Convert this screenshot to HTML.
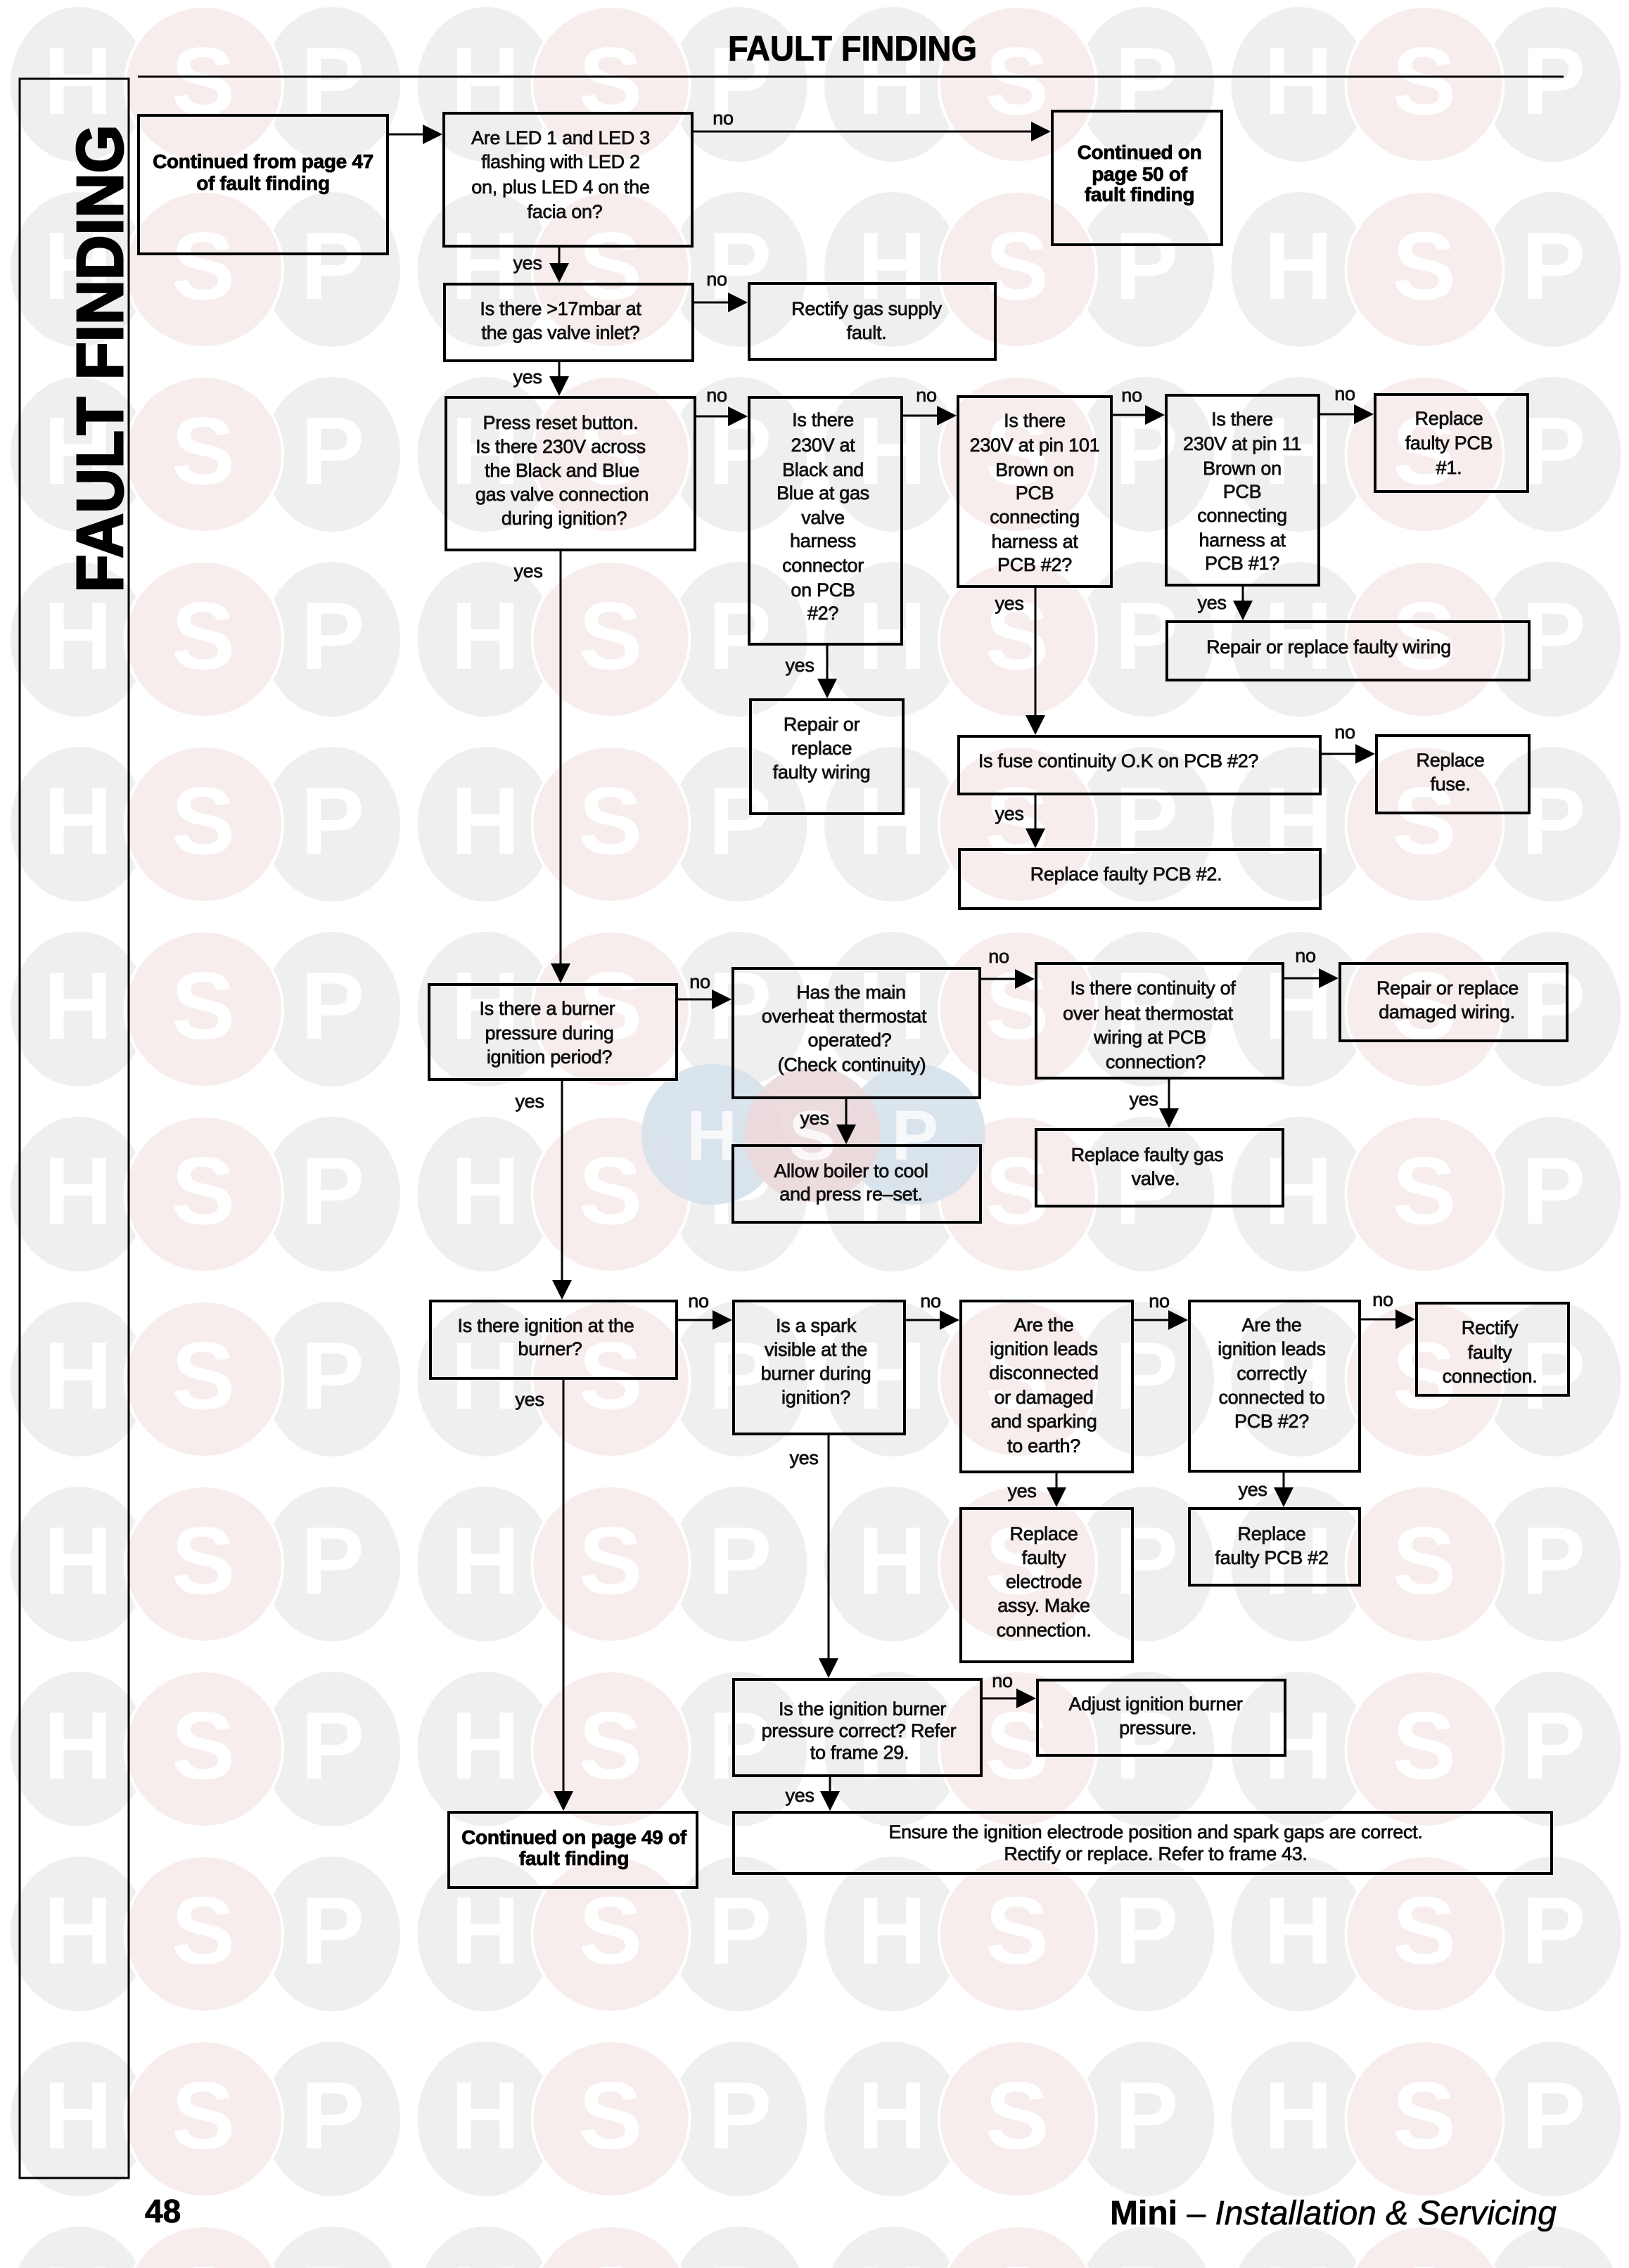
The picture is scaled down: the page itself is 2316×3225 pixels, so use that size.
<!DOCTYPE html>
<html>
<head>
<meta charset="utf-8">
<style>
html,body{margin:0;padding:0;background:#fff;}
svg{display:block;}
.t{font-family:"Liberation Sans",Arial,sans-serif;font-size:27px;fill:#111;text-anchor:middle;letter-spacing:-0.3px;stroke:#111;stroke-width:0.75px;}
.b{font-family:"Liberation Sans",Arial,sans-serif;font-size:28px;font-weight:bold;fill:#000;text-anchor:middle;letter-spacing:-0.3px;stroke:#000;stroke-width:0.8px;}
.wm{font-family:"Liberation Sans",Arial,sans-serif;font-size:136px;font-weight:bold;fill:#fff;text-anchor:middle;}
.lg{font-family:"Liberation Sans",Arial,sans-serif;font-size:100px;font-weight:bold;fill:#fff;fill-opacity:0.75;text-anchor:middle;}
</style>
</head>
<body>
<svg width="2316" height="3225" viewBox="0 0 2316 3225" xmlns="http://www.w3.org/2000/svg">
<defs>
<pattern id="wmp" patternUnits="userSpaceOnUse" x="0" y="-11.5" width="578.5" height="263">
<ellipse cx="112" cy="131.5" rx="97" ry="110" fill="#efefef"/>
<ellipse cx="472" cy="131.5" rx="97" ry="110" fill="#efefef"/>
<ellipse cx="290" cy="131.5" rx="112" ry="111" fill="#f8eded" stroke="#fff" stroke-width="4"/>
</pattern>
</defs>
<rect x="0" y="0" width="2316" height="3225" fill="#fff"/>
<rect x="0" y="0" width="2316" height="3225" fill="url(#wmp)"/>
<g>
<text class="wm" x="111 289 473 690 868 1052 1268 1446 1630 1846 2025 2209" y="162">HSPHSPHSPHSP</text>
<text class="wm" x="111 289 473 690 868 1052 1268 1446 1630 1846 2025 2209" y="425">HSPHSPHSPHSP</text>
<text class="wm" x="111 289 473 690 868 1052 1268 1446 1630 1846 2025 2209" y="688">HSPHSPHSPHSP</text>
<text class="wm" x="111 289 473 690 868 1052 1268 1446 1630 1846 2025 2209" y="951">HSPHSPHSPHSP</text>
<text class="wm" x="111 289 473 690 868 1052 1268 1446 1630 1846 2025 2209" y="1214">HSPHSPHSPHSP</text>
<text class="wm" x="111 289 473 690 868 1052 1268 1446 1630 1846 2025 2209" y="1477">HSPHSPHSPHSP</text>
<text class="wm" x="111 289 473 690 868 1052 1268 1446 1630 1846 2025 2209" y="1740">HSPHSPHSPHSP</text>
<text class="wm" x="111 289 473 690 868 1052 1268 1446 1630 1846 2025 2209" y="2003">HSPHSPHSPHSP</text>
<text class="wm" x="111 289 473 690 868 1052 1268 1446 1630 1846 2025 2209" y="2266">HSPHSPHSPHSP</text>
<text class="wm" x="111 289 473 690 868 1052 1268 1446 1630 1846 2025 2209" y="2529">HSPHSPHSPHSP</text>
<text class="wm" x="111 289 473 690 868 1052 1268 1446 1630 1846 2025 2209" y="2792">HSPHSPHSPHSP</text>
<text class="wm" x="111 289 473 690 868 1052 1268 1446 1630 1846 2025 2209" y="3055">HSPHSPHSPHSP</text>
<text class="wm" x="111 289 473 690 868 1052 1268 1446 1630 1846 2025 2209" y="3318">HSPHSPHSPHSP</text>
</g>
<!-- coloured logo -->
<g>
<circle cx="1012" cy="1613" r="100" fill="#d6e1eb" fill-opacity="0.9"/>
<circle cx="1301" cy="1613" r="100" fill="#d6e1eb" fill-opacity="0.9"/>
<circle cx="1155" cy="1613" r="96" fill="#ebd8da" fill-opacity="0.9"/>
<text class="lg" x="1012 1155 1301" y="1649">HSP</text>
</g>

<!-- header -->
<text x="1212" y="86" font-family="Liberation Sans, Arial, sans-serif" font-size="50" font-weight="bold" text-anchor="middle" textLength="354" lengthAdjust="spacingAndGlyphs" fill="#000" stroke="#000" stroke-width="1">FAULT FINDING</text>
<line x1="196" y1="109" x2="2223" y2="109" stroke="#000" stroke-width="3"/>

<!-- side panel -->
<rect x="28" y="112" width="155" height="2985" fill="none" stroke="#000" stroke-width="3"/>
<text transform="translate(174,510) rotate(-90)" x="0" y="0" font-family="Liberation Sans, Arial, sans-serif" font-size="93" font-weight="bold" text-anchor="middle" textLength="665" lengthAdjust="spacingAndGlyphs" fill="#000" stroke="#000" stroke-width="3">FAULT FINDING</text>

<!-- boxes -->
<g fill="none" stroke="#000" stroke-width="4">
<rect x="197" y="164" width="354" height="197"/>
<rect x="631" y="161" width="353" height="189"/>
<rect x="1496" y="158" width="241" height="190"/>
<rect x="632" y="404" width="353" height="109"/>
<rect x="1065" y="403" width="350" height="108"/>
<rect x="634" y="565" width="354" height="217"/>
<rect x="1065" y="565" width="217" height="351"/>
<rect x="1362" y="564" width="218" height="270"/>
<rect x="1658" y="562" width="217" height="270"/>
<rect x="1955" y="561" width="217" height="138"/>
<rect x="1067" y="995" width="217" height="162"/>
<rect x="1659" y="884" width="515" height="83"/>
<rect x="1363" y="1047" width="514" height="82"/>
<rect x="1957" y="1046" width="217" height="110"/>
<rect x="1364" y="1208" width="513" height="84"/>
<rect x="610" y="1400" width="352" height="135"/>
<rect x="1042" y="1377" width="351" height="184"/>
<rect x="1473" y="1370" width="351" height="163"/>
<rect x="1905" y="1370" width="323" height="110"/>
<rect x="1042" y="1629" width="352" height="109"/>
<rect x="1473" y="1606" width="351" height="109"/>
<rect x="612" y="1850" width="350" height="110"/>
<rect x="1043" y="1850" width="243" height="189"/>
<rect x="1366" y="1850" width="244" height="243"/>
<rect x="1691" y="1850" width="242" height="242"/>
<rect x="2014" y="1853" width="216" height="131"/>
<rect x="1366" y="2145" width="244" height="218"/>
<rect x="1691" y="2145" width="242" height="109"/>
<rect x="1043" y="2388" width="352" height="137"/>
<rect x="1475" y="2389" width="352" height="107"/>
<rect x="638" y="2577" width="353" height="107"/>
<rect x="1043" y="2577" width="1163" height="87"/>
</g>

<!-- connector lines -->
<g stroke="#000" stroke-width="3" fill="none">
<line x1="551" y1="191" x2="603" y2="191"/>
<line x1="984" y1="187" x2="1468" y2="187"/>
<line x1="985" y1="430" x2="1037" y2="430"/>
<line x1="988" y1="592" x2="1037" y2="592"/>
<line x1="1282" y1="591" x2="1334" y2="591"/>
<line x1="1580" y1="590" x2="1630" y2="590"/>
<line x1="1875" y1="589" x2="1927" y2="589"/>
<line x1="1877" y1="1072" x2="1929" y2="1072"/>
<line x1="962" y1="1421" x2="1014" y2="1421"/>
<line x1="1393" y1="1392" x2="1445" y2="1392"/>
<line x1="1824" y1="1391" x2="1877" y2="1391"/>
<line x1="962" y1="1877" x2="1015" y2="1877"/>
<line x1="1286" y1="1877" x2="1338" y2="1877"/>
<line x1="1610" y1="1877" x2="1663" y2="1877"/>
<line x1="1933" y1="1876" x2="1986" y2="1876"/>
<line x1="1395" y1="2415" x2="1447" y2="2415"/>

<line x1="795" y1="350" x2="795" y2="376"/>
<line x1="795" y1="513" x2="795" y2="537"/>
<line x1="1176" y1="916" x2="1176" y2="967"/>
<line x1="1472" y1="834" x2="1472" y2="1019"/>
<line x1="1767" y1="832" x2="1767" y2="856"/>
<line x1="1472" y1="1129" x2="1472" y2="1180"/>
<line x1="797" y1="782" x2="797" y2="1372"/>
<line x1="1662" y1="1533" x2="1662" y2="1578"/>
<line x1="1203" y1="1561" x2="1203" y2="1601"/>
<line x1="799" y1="1535" x2="799" y2="1822"/>
<line x1="1502" y1="2093" x2="1502" y2="2117"/>
<line x1="1825" y1="2092" x2="1825" y2="2117"/>
<line x1="1178" y1="2039" x2="1178" y2="2360"/>
<line x1="1180" y1="2525" x2="1180" y2="2549"/>
<line x1="801" y1="1960" x2="801" y2="2549"/>
</g>

<!-- arrowheads -->
<g fill="#000">
<polygon points="629,191 601,177 601,205"/>
<polygon points="1494,187 1466,173 1466,201"/>
<polygon points="1063,430 1035,416 1035,444"/>
<polygon points="1063,592 1035,578 1035,606"/>
<polygon points="1360,591 1332,577 1332,605"/>
<polygon points="1656,590 1628,576 1628,604"/>
<polygon points="1953,589 1925,575 1925,603"/>
<polygon points="1955,1072 1927,1058 1927,1086"/>
<polygon points="1040,1421 1012,1407 1012,1435"/>
<polygon points="1471,1392 1443,1378 1443,1406"/>
<polygon points="1903,1391 1875,1377 1875,1405"/>
<polygon points="1041,1877 1013,1863 1013,1891"/>
<polygon points="1364,1877 1336,1863 1336,1891"/>
<polygon points="1689,1877 1661,1863 1661,1891"/>
<polygon points="2012,1876 1984,1862 1984,1890"/>
<polygon points="1473,2415 1445,2401 1445,2429"/>

<polygon points="795,402 781,374 809,374"/>
<polygon points="795,563 781,535 809,535"/>
<polygon points="1176,993 1162,965 1190,965"/>
<polygon points="1472,1045 1458,1017 1486,1017"/>
<polygon points="1767,882 1753,854 1781,854"/>
<polygon points="1472,1206 1458,1178 1486,1178"/>
<polygon points="797,1398 783,1370 811,1370"/>
<polygon points="1662,1604 1648,1576 1676,1576"/>
<polygon points="1203,1627 1189,1599 1217,1599"/>
<polygon points="799,1848 785,1820 813,1820"/>
<polygon points="1502,2143 1488,2115 1516,2115"/>
<polygon points="1825,2143 1811,2115 1839,2115"/>
<polygon points="1178,2386 1164,2358 1192,2358"/>
<polygon points="1180,2575 1166,2547 1194,2547"/>
<polygon points="801,2575 787,2547 815,2547"/>
</g>

<!-- yes / no labels -->
<g>
<text class="t" x="1028" y="177">no</text>
<text class="t" x="750" y="383">yes</text>
<text class="t" x="1019" y="406">no</text>
<text class="t" x="750" y="545">yes</text>
<text class="t" x="1019" y="571">no</text>
<text class="t" x="1317" y="571">no</text>
<text class="t" x="1609" y="571">no</text>
<text class="t" x="1912" y="569">no</text>
<text class="t" x="751" y="821">yes</text>
<text class="t" x="1137" y="955">yes</text>
<text class="t" x="1435" y="867">yes</text>
<text class="t" x="1723" y="866">yes</text>
<text class="t" x="1912" y="1050">no</text>
<text class="t" x="1435" y="1166">yes</text>
<text class="t" x="995" y="1405">no</text>
<text class="t" x="753" y="1575">yes</text>
<text class="t" x="1420" y="1369">no</text>
<text class="t" x="1856" y="1368">no</text>
<text class="t" x="1626" y="1572">yes</text>
<text class="t" x="1158" y="1599">yes</text>
<text class="t" x="993" y="1859">no</text>
<text class="t" x="753" y="1999">yes</text>
<text class="t" x="1323" y="1859">no</text>
<text class="t" x="1648" y="1859">no</text>
<text class="t" x="1966" y="1857">no</text>
<text class="t" x="1143" y="2082">yes</text>
<text class="t" x="1453" y="2129">yes</text>
<text class="t" x="1781" y="2127">yes</text>
<text class="t" x="1425" y="2399">no</text>
<text class="t" x="1137" y="2562">yes</text>
</g>

<!-- box texts -->
<text class="b" x="374" y="239">Continued from page 47</text>
<text class="b" x="374" y="270">of fault finding</text>

<text class="t" x="797" y="205">Are LED 1 and LED 3</text>
<text class="t" x="797" y="239">flashing with LED 2</text>
<text class="t" x="797" y="275">on, plus LED 4 on the</text>
<text class="t" x="803" y="310">facia on?</text>

<text class="b" x="1620" y="226">Continued on</text>
<text class="b" x="1620" y="257">page 50 of</text>
<text class="b" x="1620" y="286">fault finding</text>

<text class="t" x="797" y="448">Is there &gt;17mbar at</text>
<text class="t" x="797" y="482">the gas valve inlet?</text>

<text class="t" x="1232" y="448">Rectify gas supply</text>
<text class="t" x="1232" y="482">fault.</text>

<text class="t" x="797" y="610">Press reset button.</text>
<text class="t" x="797" y="644">Is there 230V across</text>
<text class="t" x="799" y="678">the Black and Blue</text>
<text class="t" x="799" y="712">gas valve connection</text>
<text class="t" x="802" y="746">during ignition?</text>

<text class="t" x="1170" y="606">Is there</text>
<text class="t" x="1170" y="642">230V at</text>
<text class="t" x="1170" y="677">Black and</text>
<text class="t" x="1170" y="710">Blue at gas</text>
<text class="t" x="1170" y="745">valve</text>
<text class="t" x="1170" y="778">harness</text>
<text class="t" x="1170" y="813">connector</text>
<text class="t" x="1170" y="848">on PCB</text>
<text class="t" x="1170" y="881">#2?</text>

<text class="t" x="1471" y="607">Is there</text>
<text class="t" x="1471" y="642">230V at pin 101</text>
<text class="t" x="1471" y="677">Brown on</text>
<text class="t" x="1471" y="710">PCB</text>
<text class="t" x="1471" y="744">connecting</text>
<text class="t" x="1471" y="779">harness at</text>
<text class="t" x="1471" y="812">PCB #2?</text>

<text class="t" x="1766" y="605">Is there</text>
<text class="t" x="1766" y="640">230V at pin 11</text>
<text class="t" x="1766" y="675">Brown on</text>
<text class="t" x="1766" y="708">PCB</text>
<text class="t" x="1766" y="742">connecting</text>
<text class="t" x="1766" y="777">harness at</text>
<text class="t" x="1766" y="810">PCB #1?</text>

<text class="t" x="2060" y="604">Replace</text>
<text class="t" x="2060" y="639">faulty PCB</text>
<text class="t" x="2060" y="674">#1.</text>

<text class="t" x="1168" y="1039">Repair or</text>
<text class="t" x="1168" y="1073">replace</text>
<text class="t" x="1168" y="1107">faulty wiring</text>

<text class="t" x="1889" y="929">Repair or replace faulty wiring</text>

<text class="t" x="1590" y="1091">Is fuse continuity O.K on PCB #2?</text>

<text class="t" x="2062" y="1090">Replace</text>
<text class="t" x="2062" y="1124">fuse.</text>

<text class="t" x="1601" y="1252">Replace faulty PCB #2.</text>

<text class="t" x="778" y="1443">Is there a burner</text>
<text class="t" x="781" y="1478">pressure during</text>
<text class="t" x="781" y="1512">ignition period?</text>

<text class="t" x="1210" y="1420">Has the main</text>
<text class="t" x="1200" y="1454">overheat thermostat</text>
<text class="t" x="1208" y="1488">operated?</text>
<text class="t" x="1211" y="1523">(Check continuity)</text>

<text class="t" x="1639" y="1414">Is there continuity of</text>
<text class="t" x="1632" y="1450">over heat thermostat</text>
<text class="t" x="1635" y="1484">wiring at PCB</text>
<text class="t" x="1643" y="1519">connection?</text>

<text class="t" x="2058" y="1414">Repair or replace</text>
<text class="t" x="2057" y="1448">damaged wiring.</text>

<text class="t" x="1210" y="1674">Allow boiler to cool</text>
<text class="t" x="1210" y="1707">and press re–set.</text>

<text class="t" x="1631" y="1651">Replace faulty gas</text>
<text class="t" x="1643" y="1685">valve.</text>

<text class="t" x="776" y="1894">Is there ignition at the</text>
<text class="t" x="782" y="1927">burner?</text>

<text class="t" x="1160" y="1894">Is a spark</text>
<text class="t" x="1160" y="1928">visible at the</text>
<text class="t" x="1160" y="1962">burner during</text>
<text class="t" x="1160" y="1996">ignition?</text>

<text class="t" x="1484" y="1893">Are the</text>
<text class="t" x="1484" y="1927">ignition leads</text>
<text class="t" x="1484" y="1961">disconnected</text>
<text class="t" x="1484" y="1996">or damaged</text>
<text class="t" x="1484" y="2030">and sparking</text>
<text class="t" x="1484" y="2065">to earth?</text>

<text class="t" x="1808" y="1893">Are the</text>
<text class="t" x="1808" y="1927">ignition leads</text>
<text class="t" x="1808" y="1962">correctly</text>
<text class="t" x="1808" y="1996">connected to</text>
<text class="t" x="1808" y="2030">PCB #2?</text>

<text class="t" x="2118" y="1897">Rectify</text>
<text class="t" x="2118" y="1932">faulty</text>
<text class="t" x="2118" y="1966">connection.</text>

<text class="t" x="1484" y="2190">Replace</text>
<text class="t" x="1484" y="2224">faulty</text>
<text class="t" x="1484" y="2258">electrode</text>
<text class="t" x="1484" y="2292">assy. Make</text>
<text class="t" x="1484" y="2327">connection.</text>

<text class="t" x="1808" y="2190">Replace</text>
<text class="t" x="1808" y="2224">faulty PCB #2</text>

<text class="t" x="1226" y="2439">Is the ignition burner</text>
<text class="t" x="1221" y="2470">pressure correct? Refer</text>
<text class="t" x="1222" y="2501">to frame 29.</text>

<text class="t" x="1643" y="2432">Adjust ignition burner</text>
<text class="t" x="1646" y="2466">pressure.</text>

<text class="b" x="816" y="2622">Continued on page 49 of</text>
<text class="b" x="816" y="2652">fault finding</text>

<text class="t" x="1643" y="2614">Ensure the ignition electrode position and spark gaps are correct.</text>
<text class="t" x="1643" y="2645">Rectify or replace. Refer to frame 43.</text>

<!-- footer -->
<text x="206" y="3160" font-family="Liberation Sans, Arial, sans-serif" font-size="46" font-weight="bold" fill="#000" stroke="#000" stroke-width="0.8">48</text>
<text x="1578" y="3163" font-family="Liberation Sans, Arial, sans-serif" font-size="48" fill="#000" stroke="#000" stroke-width="0.6"><tspan font-weight="bold">Mini</tspan><tspan> – </tspan><tspan font-style="italic">Installation &amp; Servicing</tspan></text>
</svg>
</body>
</html>
